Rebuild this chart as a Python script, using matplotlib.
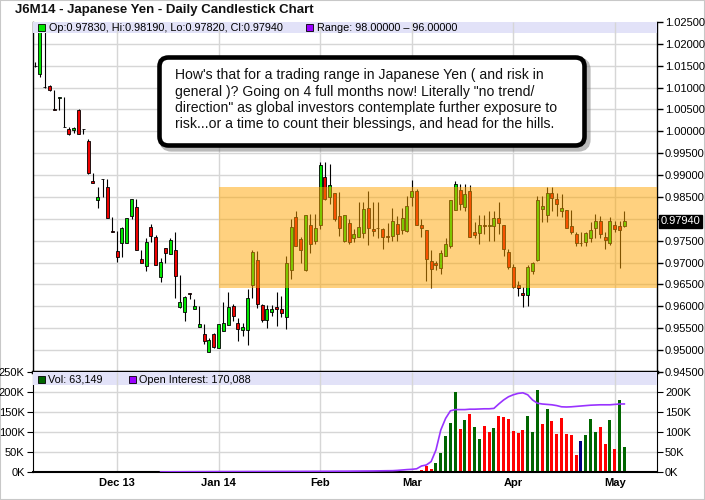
"""
J6M14 Japanese Yen daily candles with volume / open interest panel

"""
import numpy as np
import pandas as pd
import matplotlib
matplotlib.use("Agg")
import matplotlib.pyplot as plt
from matplotlib.patches import FancyBboxPatch, Rectangle
from matplotlib.transforms import IdentityTransform, blended_transform_factory
from matplotlib.ticker import FuncFormatter

plt.rcParams["font.family"] = ["Liberation Sans", "DejaVu Sans"]

# trading sessions on the chart (exchange holidays dropped)
holidays = ["2013-11-28", "2013-12-25", "2014-01-01", "2014-01-20", "2014-02-17", "2014-04-18"]
dates = pd.bdate_range("2013-11-06", "2014-05-05").drop(pd.to_datetime(holidays))
month_labels = ["Dec 13", "Jan 14", "Feb", "Mar", "Apr", "May"]

opens = [
    1.0150, 1.0130, 1.0102, 1.0104, 1.0050, 1.0077, 1.0011, 1.0006, 1.0002, 1.0049,
    1.0006, 0.9979, 0.9887, 0.9843, 0.9891, 0.9873, 0.9772, 0.9727, 0.9744, 0.9744,
    0.9806, 0.9826, 0.9708, 0.9692, 0.9782, 0.9759, 0.9666, 0.9733, 0.9720, 0.9729,
    0.9598, 0.9587, 0.9630, 0.9594, 0.9552, 0.9537, 0.9495, 0.9537, 0.9505, 0.9544,
    0.9558, 0.9601, 0.9561, 0.9546, 0.9546, 0.9649, 0.9707, 0.9604, 0.9569, 0.9588,
    0.9599, 0.9594, 0.9575, 0.9683, 0.9805, 0.9754, 0.9683, 0.9787, 0.9749, 0.9787,
    0.9895, 0.9851, 0.9860, 0.9807, 0.9750, 0.9790, 0.9756, 0.9758, 0.9767, 0.9825,
    0.9777, 0.9779, 0.9777, 0.9761, 0.9761, 0.9788, 0.9774, 0.9773, 0.9851, 0.9864,
    0.9787, 0.9775, 0.9704, 0.9699, 0.9688, 0.9715, 0.9737, 0.9821, 0.9866, 0.9826,
    0.9864, 0.9771, 0.9767, 0.9785, 0.9784, 0.9784, 0.9802, 0.9787, 0.9725, 0.9691,
    0.9649, 0.9631, 0.9627, 0.9680, 0.9706, 0.9822, 0.9809, 0.9859, 0.9845, 0.9819,
    0.9820, 0.9783, 0.9765, 0.9745, 0.9748, 0.9756, 0.9779, 0.9796, 0.9759, 0.9744,
    0.9786, 0.9784, 0.9783,
]
highs = [
    1.0158, 1.0242, 1.0235, 1.0105, 1.0094, 1.0079, 1.0078, 1.0010, 1.0011, 1.0052,
    1.0006, 0.9982, 0.9905, 0.9873, 0.9891, 0.9891, 0.9805, 0.9773, 0.9782, 0.9803,
    0.9845, 0.9845, 0.9729, 0.9756, 0.9788, 0.9763, 0.9710, 0.9733, 0.9756, 0.9771,
    0.9672, 0.9624, 0.9630, 0.9616, 0.9601, 0.9559, 0.9527, 0.9539, 0.9559, 0.9611,
    0.9632, 0.9605, 0.9574, 0.9563, 0.9639, 0.9729, 0.9727, 0.9605, 0.9604, 0.9604,
    0.9632, 0.9623, 0.9716, 0.9800, 0.9817, 0.9758, 0.9809, 0.9810, 0.9810, 0.9931,
    0.9929, 0.9925, 0.9860, 0.9861, 0.9809, 0.9799, 0.9777, 0.9839, 0.9839, 0.9864,
    0.9839, 0.9839, 0.9779, 0.9791, 0.9824, 0.9806, 0.9824, 0.9853, 0.9889, 0.9868,
    0.9800, 0.9775, 0.9729, 0.9704, 0.9729, 0.9756, 0.9843, 0.9887, 0.9880, 0.9880,
    0.9878, 0.9792, 0.9808, 0.9808, 0.9819, 0.9819, 0.9838, 0.9787, 0.9731, 0.9697,
    0.9658, 0.9645, 0.9694, 0.9701, 0.9853, 0.9853, 0.9873, 0.9873, 0.9859, 0.9857,
    0.9820, 0.9820, 0.9769, 0.9769, 0.9769, 0.9792, 0.9811, 0.9807, 0.9769, 0.9805,
    0.9796, 0.9796, 0.9819,
]
lows = [
    1.0148, 1.0125, 1.0100, 1.0093, 1.0048, 1.0049, 1.0009, 0.9991, 0.9996, 0.9993,
    0.9994, 0.9902, 0.9882, 0.9825, 0.9849, 0.9803, 0.9771, 0.9702, 0.9712, 0.9744,
    0.9800, 0.9729, 0.9698, 0.9680, 0.9746, 0.9694, 0.9655, 0.9700, 0.9720, 0.9618,
    0.9596, 0.9567, 0.9617, 0.9594, 0.9552, 0.9515, 0.9495, 0.9504, 0.9505, 0.9544,
    0.9558, 0.9566, 0.9521, 0.9532, 0.9511, 0.9618, 0.9597, 0.9564, 0.9550, 0.9578,
    0.9556, 0.9575, 0.9548, 0.9662, 0.9739, 0.9699, 0.9680, 0.9723, 0.9742, 0.9777,
    0.9842, 0.9834, 0.9796, 0.9761, 0.9746, 0.9742, 0.9746, 0.9758, 0.9756, 0.9741,
    0.9761, 0.9756, 0.9730, 0.9748, 0.9749, 0.9749, 0.9765, 0.9771, 0.9830, 0.9785,
    0.9759, 0.9657, 0.9642, 0.9683, 0.9674, 0.9715, 0.9733, 0.9821, 0.9820, 0.9817,
    0.9759, 0.9756, 0.9743, 0.9765, 0.9749, 0.9749, 0.9765, 0.9716, 0.9685, 0.9643,
    0.9623, 0.9599, 0.9601, 0.9674, 0.9704, 0.9792, 0.9792, 0.9817, 0.9807, 0.9804,
    0.9780, 0.9765, 0.9739, 0.9739, 0.9739, 0.9746, 0.9756, 0.9756, 0.9731, 0.9741,
    0.9769, 0.9688, 0.9782,
]
closes = [
    1.0149, 1.0232, 1.0101, 1.0094, 1.0049, 1.0078, 1.0010, 0.9993, 1.0008, 0.9994,
    1.0005, 0.9904, 0.9882, 0.9851, 0.9890, 0.9803, 0.9771, 0.9712, 0.9780, 0.9802,
    0.9845, 0.9729, 0.9698, 0.9748, 0.9760, 0.9694, 0.9702, 0.9722, 0.9752, 0.9670,
    0.9609, 0.9622, 0.9629, 0.9601, 0.9559, 0.9520, 0.9523, 0.9506, 0.9559, 0.9561,
    0.9599, 0.9578, 0.9548, 0.9553, 0.9620, 0.9725, 0.9605, 0.9569, 0.9594, 0.9594,
    0.9595, 0.9584, 0.9699, 0.9782, 0.9739, 0.9729, 0.9809, 0.9742, 0.9779, 0.9924,
    0.9845, 0.9877, 0.9800, 0.9780, 0.9809, 0.9746, 0.9765, 0.9782, 0.9822, 0.9779,
    0.9772, 0.9779, 0.9759, 0.9758, 0.9794, 0.9765, 0.9802, 0.9830, 0.9864, 0.9787,
    0.9779, 0.9708, 0.9685, 0.9694, 0.9722, 0.9742, 0.9843, 0.9880, 0.9834, 0.9857,
    0.9759, 0.9763, 0.9787, 0.9784, 0.9787, 0.9802, 0.9790, 0.9731, 0.9691, 0.9645,
    0.9641, 0.9627, 0.9689, 0.9699, 0.9843, 0.9830, 0.9859, 0.9848, 0.9834, 0.9825,
    0.9780, 0.9769, 0.9744, 0.9745, 0.9767, 0.9774, 0.9796, 0.9765, 0.9752, 0.9796,
    0.9777, 0.9774, 0.9794,
]

volume = [
    0, 0, 0, 0, 0, 0, 0, 0, 0, 0,
    0, 0, 0, 0, 0, 0, 0, 0, 0, 0,
    0, 0, 0, 0, 0, 0, 0, 0, 0, 0,
    0, 0, 0, 0, 0, 0, 0, 0, 0, 0,
    0, 0, 0, 0, 0, 0, 0, 0, 0, 0,
    0, 0, 0, 0, 0, 0, 0, 0, 0, 0,
    0, 0, 0, 0, 0, 0, 0, 0, 0, 0,
    0, 0, 0, 0, 0, 0, 1000, 1500, 1500, 2500,
    4000, 15000, 7500, 22500, 47500, 90000, 122500, 200000, 107500, 130000,
    145000, 112500, 82500, 115000, 100000, 110000, 140000, 137500, 132500, 102500,
    97500, 105000, 140000, 100000, 205000, 120000, 157500, 127500, 95000, 135000,
    95000, 92500, 42500, 77500, 92500, 132500, 100000, 112500, 70000, 130000,
    57500, 180000, 63149,
]
vol_colors = (
    "g" * 76
    + "gggrrrrgggggrgrggrrgrrrrrrgggrgrrrrrrbgggrrgrgg"
)

nan = np.nan
open_interest = [
    nan, nan, nan, nan, nan, nan, nan, nan, nan, nan,
    nan, nan, nan, nan, nan, nan, nan, nan, nan, nan,
    nan, nan, nan, nan, nan, nan, 200, 300, 400, 500,
    500, 600, 700, 700, 800, 800, 900, 900, 1000, 1000,
    1000, 1100, 1100, 1100, 1200, 1200, 1200, 1300, 1300, 1300,
    1400, 1400, 1400, 1500, 1500, 1500, 1600, 1600, 1700, 1700,
    1800, 1800, 1900, 2000, 2000, 2100, 2200, 2300, 2400, 2500,
    2600, 2800, 3000, 3200, 3300, 4000, 5000, 6000, 6700, 8000,
    15000, 17500, 26000, 55000, 105000, 134000, 153000, 156000, 156000, 156000,
    157000, 157000, 157500, 158000, 158000, 159000, 170000, 180000, 188000, 193000,
    196500, 198000, 193000, 180000, 172000, 170000, 169000, 168000, 166000, 163000,
    162500, 163000, 164000, 165000, 166000, 167000, 167500, 168000, 168000, 168000,
    169000, 170000, 170088,
]

band_lo, band_hi = 0.9641, 0.98735

W, H = 705, 500


def fx(px):
    return px / W


def fy(py):
    return 1 - py / H


def main():
    o = np.array(opens)
    h = np.array(highs)
    lo = np.array(lows)
    c = np.array(closes)
    x = np.arange(len(dates))
    month_pos = [i for i in range(1, len(dates)) if dates[i].month != dates[i - 1].month]

    fig = plt.figure(figsize=(W / 100, H / 100), dpi=100)
    left, right = 33 / W, 656.7 / W
    ax = fig.add_axes([left, 128 / H, right - left, 350 / H])
    axv = fig.add_axes([left, 28 / H, right - left, 100 / H], sharex=ax)

    grid_c = "#d6d6d6"

    # ---- price panel
    ax.set_xlim(-0.42, 128.7)
    ax.set_ylim(0.945, 1.025)
    ax.set_yticks(np.arange(0.945, 1.0251, 0.005))
    ax.set_xticks(month_pos)
    ax.grid(True, color=grid_c, lw=1)
    ax.set_axisbelow(True)
    ax.yaxis.tick_right()
    ax.yaxis.set_major_formatter(
        FuncFormatter(lambda v, p: "" if abs(v - 0.98) < 1e-6 else f"{v:.5f}"))
    ax.tick_params(axis="y", direction="out", length=4, width=1, labelsize=8, pad=2)
    ax.tick_params(axis="x", length=0, labelbottom=False)
    for s in ["top", "bottom"]:
        ax.spines[s].set_visible(False)
    for s in ["left", "right"]:
        ax.spines[s].set_linewidth(1)

    up = c >= o
    ax.vlines(x, lo, h, color="black", lw=0.8, zorder=2)
    ax.bar(x, np.abs(c - o), bottom=np.minimum(o, c), width=0.62,
           color=np.where(up, "#00e600", "#ee0000"), edgecolor="black", lw=0.6, zorder=2.2)

    # shaded trading range
    ax.fill_between([month_pos[1], 128.7], band_lo, band_hi, color="#ffa500",
                    alpha=0.5, lw=0, zorder=3)

    # header strip
    ax.axhspan(1.02241, 1.025, color="#e2e2f8", lw=0, zorder=4)
    ax.vlines(month_pos, 1.02241, 1.025, color=grid_c, lw=1, zorder=4.5)

    # last price tag
    tr = blended_transform_factory(ax.transAxes, ax.transData)
    ax.text(1.006, closes[-1], f"{closes[-1]:.5f}", transform=tr, color="white",
            fontsize=8, va="center", ha="left", zorder=10, clip_on=False,
            bbox=dict(boxstyle="square,pad=0.12", fc="black", ec="black"))

    # ---- volume panel
    vol_map = {"g": "#006600", "r": "#ff0000", "b": "#000080"}
    axv.set_ylim(0, 250000)
    axv.set_yticks(np.arange(0, 250001, 50000))
    axv.yaxis.set_major_formatter(FuncFormatter(lambda v, p: f"{v / 1000:.0f}K"))
    axv.grid(True, color=grid_c, lw=1)
    axv.set_axisbelow(True)
    axv.bar(x, volume, width=0.62, color=[vol_map[k] for k in vol_colors], lw=0, zorder=2)
    axv.plot(x, open_interest, color="#9933ff", lw=1.2, zorder=3)
    axv.axhspan(218000, 250000, color="#e2e2f8", lw=0, zorder=4)
    axv.vlines(month_pos, 218000, 250000, color=grid_c, lw=1, zorder=4.5)
    axv.tick_params(axis="y", direction="out", length=4, labelsize=8, pad=2)
    axv.set_xticks(month_pos)
    axv.set_xticklabels(month_labels, fontsize=8, fontweight="bold")
    axv.tick_params(axis="x", length=0, pad=4)
    axv.spines["top"].set_linewidth(2.5)
    axv.spines["bottom"].set_linewidth(1.5)

    axr = axv.twinx()
    axr.set_ylim(0, 250000)
    axr.set_yticks(np.arange(0, 200001, 50000))
    axr.yaxis.set_major_formatter(FuncFormatter(lambda v, p: f"{v / 1000:.0f}K"))
    axr.tick_params(axis="y", direction="out", length=4, labelsize=8, pad=2)
    for s in axr.spines.values():
        s.set_visible(False)

    # ---- header texts and legend squares
    fig.text(fx(15), fy(10), "J6M14 - Japanese Yen - Daily Candlestick Chart",
             fontsize=9.5, fontweight="bold", va="center", color="#111111")

    def square(px, py, color):
        fig.add_artist(Rectangle((fx(px), fy(py + 7)), 7 / W, 7 / H, transform=fig.transFigure,
                                 fc=color, ec="black", lw=0.6, zorder=6))

    square(38, 24, "#00e600")
    fig.text(fx(49), fy(28), "Op:0.97830, Hi:0.98190, Lo:0.97820, Cl:0.97940",
             fontsize=7.8, va="center", zorder=6)
    square(306, 24, "#9900ff")
    fig.text(fx(317), fy(28), "Range: 98.00000 \u2013 96.00000", fontsize=7.8,
             va="center", zorder=6)
    square(38, 376, "#006600")
    fig.text(fx(48), fy(380), "Vol: 63,149", fontsize=7.8, va="center", zorder=6)
    square(129, 376, "#9900ff")
    fig.text(fx(139), fy(380), "Open Interest: 170,088", fontsize=7.8, va="center", zorder=6)

    # ---- commentary box (pixel coordinates)
    bx0, bx1, by_top, by_bot = 159.5, 584.5, 57.5, 145.5
    shadow = FancyBboxPatch((bx0 + 3, H - by_bot - 3), bx1 - bx0, by_bot - by_top,
                            boxstyle="round,pad=0,rounding_size=9", transform=IdentityTransform(),
                            fc="none", ec="#777777", lw=4.5, alpha=0.5, zorder=7)
    box = FancyBboxPatch((bx0, H - by_bot), bx1 - bx0, by_bot - by_top,
                         boxstyle="round,pad=0,rounding_size=9", transform=IdentityTransform(),
                         fc="white", ec="black", lw=3.3, zorder=8)
    fig.add_artist(shadow)
    fig.add_artist(box)
    note = ("How's that for a trading range in Japanese Yen ( and risk in\n"
            "general )? Going on 4 full months now! Literally \"no trend/\n"
            "direction\" as global investors contemplate further exposure to\n"
            "risk...or a time to count their blessings, and head for the hills.")
    fig.text(fx(175), fy(68.5), note, fontsize=10.1, linespacing=1.19, va="top", ha="left",
             color="#111111", zorder=9)

    fig.add_artist(Rectangle((0, 0), 1, 1, transform=fig.transFigure, fc="none",
                             ec="#c8c8c8", lw=1.5, zorder=0))

    fig.savefig("out.png", dpi=100)


if __name__ == "__main__":
    main()
